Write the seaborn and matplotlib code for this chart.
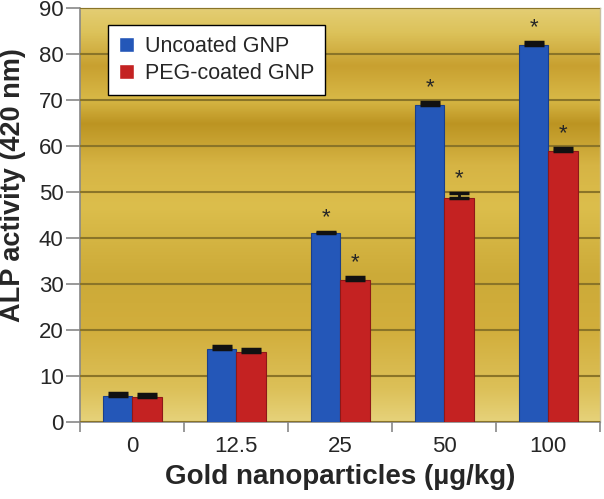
import numpy as np
import pandas as pd
import matplotlib
matplotlib.use('Agg')
import matplotlib.pyplot as plt
from matplotlib.colors import LinearSegmentedColormap
import seaborn as sns

doses = ['0', '12.5', '25', '50', '100']
uncoated = [5.7, 15.9, 41.0, 69.0, 82.0]
uncoated_err = [0.6, 0.6, 0.4, 0.6, 0.6]
peg = [5.5, 15.3, 30.8, 48.8, 58.9]
peg_err = [0.6, 0.6, 0.8, 1.0, 0.6]
signif = [False, False, True, True, True]

df = pd.DataFrame({
    'dose': doses * 2,
    'alp': uncoated + peg,
    'err': uncoated_err + peg_err,
    'group': ['Uncoated GNP'] * 5 + ['PEG-coated GNP'] * 5,
})

sns.set_style('white')
plt.rcParams['font.family'] = ['Liberation Sans', 'DejaVu Sans']

fig = plt.figure(figsize=(6.04, 4.99), dpi=100)
ax = fig.add_axes([0.133, 0.154, 0.861, 0.83])

# golden banded background
stops = [(0.0, '#e6d27a'), (0.08, '#dcc058'), (0.22, '#d2ae3c'), (0.35, '#ccaa38'),
         (0.52, '#dcbe4c'), (0.62, '#d6b444'), (0.72, '#bc9422'), (0.78, '#d8b846'),
         (0.86, '#c8a030'), (0.94, '#dcc25a'), (1.0, '#e4ce74')]
cmap = LinearSegmentedColormap.from_list('gold', stops)
grad = np.linspace(0, 1, 256).reshape(-1, 1)
ax.imshow(grad, cmap=cmap, aspect='auto', extent=(-0.5, 4.5, 0, 90),
          origin='lower', zorder=0)

sns.barplot(data=df, x='dose', y='alp', hue='group', ax=ax,
            palette=['#2457b8', '#c42222'], width=0.57, gap=0,
            saturation=1, errorbar=None, zorder=3, legend=True)

edge_cols = ['#1a3f8a', '#8e1818']
for cont, errs, ec in zip(ax.containers, [uncoated_err, peg_err], edge_cols):
    for bar, e, s in zip(cont, errs, signif):
        bar.set_edgecolor(ec)
        bar.set_linewidth(0.8)
        cx = bar.get_x() + bar.get_width() / 2
        h = bar.get_height()
        ax.errorbar(cx, h, yerr=[[0], [e]], fmt='none', ecolor='#111111',
                    elinewidth=2, capsize=7, capthick=2.5, zorder=4)
        if s:
            ax.text(cx, h + e + 0.8, '*', ha='center', va='bottom',
                    fontsize=16, zorder=5)

ax.set_xlim(-0.5, 4.5)
ax.set_ylim(0, 90)
ax.set_yticks(range(0, 91, 10))
ax.yaxis.grid(True, color='#8a7428', linewidth=1.5, zorder=1)
ax.set_axisbelow(False)
for gl in ax.get_ygridlines():
    gl.set_zorder(1)

ax.set_xticks(range(5))
ax.set_xticklabels(doses)
ax.set_xticks(np.arange(-0.5, 5, 1), minor=True)
ax.tick_params(axis='x', which='major', length=0, pad=10, labelsize=16)
ax.tick_params(axis='x', which='minor', length=7, width=1.2, color='#888888',
               direction='out', bottom=True)
ax.tick_params(axis='y', length=10, width=1.2, color='#888888', direction='out',
               left=True, labelsize=16, pad=2)

for side in ['top', 'right']:
    ax.spines[side].set_color('#c8c0a0')
    ax.spines[side].set_linewidth(1.0)
for side in ['left', 'bottom']:
    ax.spines[side].set_color('#888888')
    ax.spines[side].set_linewidth(1.2)

ax.set_xlabel('Gold nanoparticles (\u00b5g/kg)', fontsize=20, fontweight='bold',
              labelpad=5)
ax.set_ylabel('ALP activity (420 nm)', fontsize=19.5, fontweight='bold')
ax.yaxis.set_label_coords(-0.104, 0.572)

leg = ax.legend(loc='upper left', bbox_to_anchor=(0.054, 0.959), borderaxespad=0,
                fontsize=15.5, frameon=True, fancybox=False, edgecolor='black',
                framealpha=1, handlelength=0.7, handleheight=0.7,
                handletextpad=0.5, borderpad=0.5, labelspacing=0.3)
leg.get_frame().set_linewidth(1.0)
leg.set_zorder(10)

fig.savefig('out.png', dpi=100)
